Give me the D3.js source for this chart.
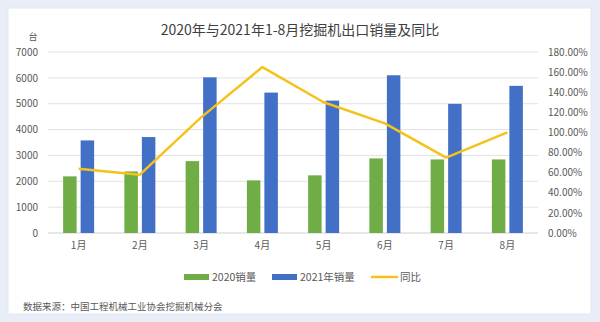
<!DOCTYPE html>
<html>
<head>
<meta charset="utf-8">
<script src="https://cdn.jsdelivr.net/npm/d3@7"></script>
<style>
  html, body { margin: 0; padding: 0; background: #e8edf7; }
  svg { display: block; }
</style>
</head>
<body>
<svg id="chart" width="600" height="322"></svg>
<script>
// Monthly excavator export sales, 2020 vs 2021, with year-on-year growth
const months = ["1月", "2月", "3月", "4月", "5月", "6月", "7月", "8月"];
const sales2020 = [2190, 2380, 2780, 2035, 2230, 2885, 2845, 2845];
const sales2021 = [3580, 3710, 6020, 5430, 5120, 6100, 4995, 5690];
const yoyPct = [64, 58, 115, 165, 130, 109, 75, 100];
const leftTicks = [0, 1000, 2000, 3000, 4000, 5000, 6000, 7000];
const rightTicks = [0, 20, 40, 60, 80, 100, 120, 140, 160, 180];

const font = "'Noto Sans CJK SC', 'Noto Sans', sans-serif";
const textColor = "#595959";
const green = "#70ad47", blue = "#4270c6", gold = "#f5c21b";

const svg = d3.select("#chart");

// card
svg.append("rect").attr("x", 8).attr("y", 8).attr("width", 583).attr("height", 306)
  .attr("fill", "#ffffff").attr("stroke", "#e3e7ef");

const plot = { left: 48, right: 538, top: 52, bottom: 233 };

const x = d3.scaleBand().domain(months).range([plot.left, plot.right]).paddingInner(0).paddingOuter(0);
const yL = d3.scaleLinear().domain([0, 7000]).range([plot.bottom, plot.top]);
const yR = d3.scaleLinear().domain([0, 180]).range([plot.bottom, plot.top]);

// gridlines
svg.append("g").selectAll("line").data(leftTicks).join("line")
  .attr("x1", plot.left).attr("x2", plot.right)
  .attr("y1", d => yL(d)).attr("y2", d => yL(d))
  .attr("stroke", d => d === 0 ? "#d0d0d0" : "#e2e2e2").attr("stroke-width", 1);

// left axis
const axL = svg.append("g").attr("transform", `translate(${plot.left - 10},0)`)
  .call(d3.axisLeft(yL).tickValues(leftTicks).tickSize(0).tickPadding(0).tickFormat(d3.format("d")));
axL.select(".domain").remove();
axL.selectAll("text").attr("font-family", font).attr("font-size", 10).attr("fill", textColor);

// right axis
const axR = svg.append("g").attr("transform", `translate(${plot.right + 10},0)`)
  .call(d3.axisRight(yR).tickValues(rightTicks).tickSize(0).tickPadding(0)
    .tickFormat(d => d.toFixed(2) + "%"));
axR.select(".domain").remove();
axR.selectAll("text").attr("font-family", font).attr("font-size", 10).attr("fill", textColor);

// bottom axis
const axB = svg.append("g").attr("transform", `translate(0,${plot.bottom + 9})`)
  .call(d3.axisBottom(x).tickSize(0).tickPadding(0));
axB.select(".domain").remove();
axB.selectAll("text").attr("font-family", font).attr("font-size", 10).attr("fill", textColor);

// bars
const barW = 13.5, gap = 4;
const bars = svg.append("g");
bars.selectAll(".b20").data(months).join("rect")
  .attr("x", (d) => x(d) + x.bandwidth() / 2 - gap / 2 - barW)
  .attr("y", (d, i) => yL(sales2020[i]))
  .attr("width", barW)
  .attr("height", (d, i) => yL(0) - yL(sales2020[i]))
  .attr("fill", green);
bars.selectAll(".b21").data(months).join("rect")
  .attr("x", (d) => x(d) + x.bandwidth() / 2 + gap / 2)
  .attr("y", (d, i) => yL(sales2021[i]))
  .attr("width", barW)
  .attr("height", (d, i) => yL(0) - yL(sales2021[i]))
  .attr("fill", blue);

// year-on-year line
const line = d3.line()
  .x((d, i) => x(months[i]) + x.bandwidth() / 2)
  .y(d => yR(d));
svg.append("path").datum(yoyPct).attr("d", line)
  .attr("fill", "none").attr("stroke", gold).attr("stroke-width", 2.5)
  .attr("stroke-linejoin", "round");

// title and unit
svg.append("text").attr("x", 300).attr("y", 35).attr("text-anchor", "middle")
  .attr("font-family", font).attr("font-size", 14).attr("fill", "#404040")
  .text("2020年与2021年1-8月挖掘机出口销量及同比");
svg.append("text").attr("x", 33).attr("y", 40).attr("text-anchor", "middle")
  .attr("font-family", font).attr("font-size", 9).attr("fill", textColor).text("台");

// legend
const legend = [
  { label: "2020销量", color: green, type: "rect", x: 184 },
  { label: "2021年销量", color: blue, type: "rect", x: 272 },
  { label: "同比", color: gold, type: "line", x: 371 }
];
const lg = svg.append("g");
legend.forEach(l => {
  if (l.type === "rect") {
    lg.append("rect").attr("x", l.x).attr("y", 274).attr("width", 25).attr("height", 6).attr("fill", l.color);
  } else {
    lg.append("line").attr("x1", l.x).attr("x2", l.x + 27).attr("y1", 277).attr("y2", 277)
      .attr("stroke", l.color).attr("stroke-width", 2.5);
  }
  lg.append("text").attr("x", l.x + (l.type === "rect" ? 28 : 29)).attr("y", 281)
    .attr("font-family", font).attr("font-size", 10.5).attr("fill", textColor).text(l.label);
});

// source note
svg.append("text").attr("x", 23).attr("y", 310)
  .attr("font-family", font).attr("font-size", 9.5).attr("fill", textColor)
  .text("数据来源：中国工程机械工业协会挖掘机械分会");
</script>
</body>
</html>
